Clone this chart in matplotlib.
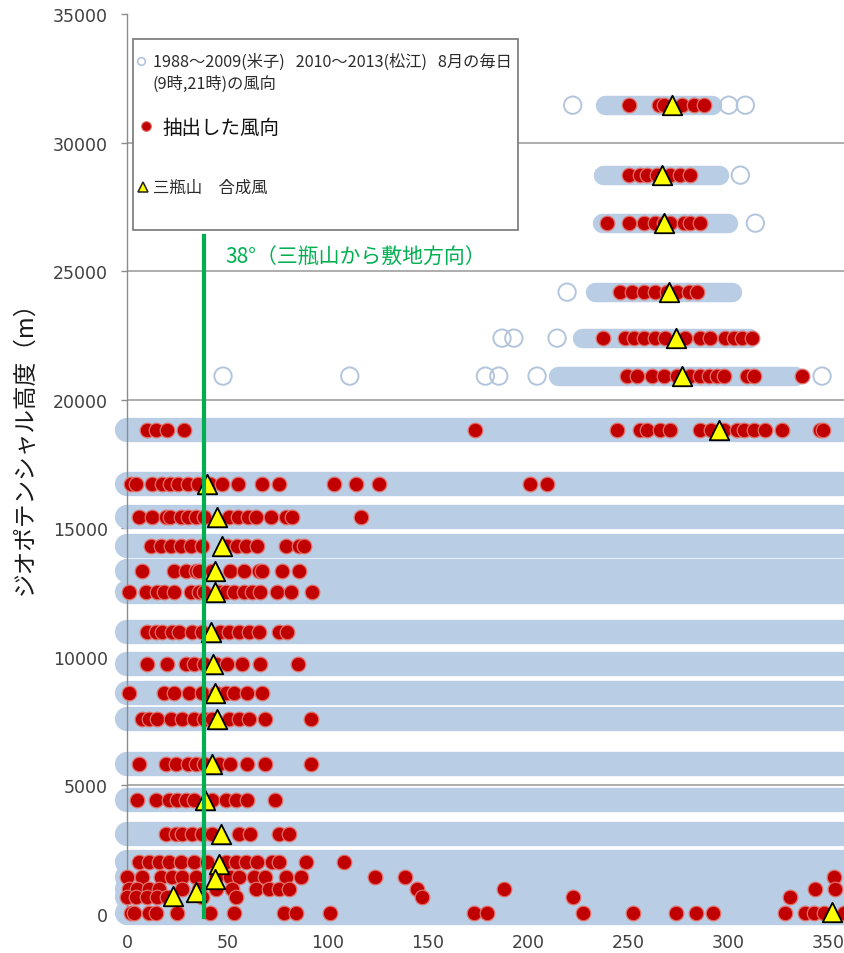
import matplotlib
matplotlib.use("Agg")
import matplotlib.pyplot as plt
from matplotlib.lines import Line2D
from matplotlib.patches import Rectangle

CJK = ["Noto Sans CJK JP", "DejaVu Sans"]

# Geopotential height of each observed level (m)
level_heights = [31454, 28733, 26866, 24183, 22395, 20918, 18818, 16719, 15435,
                 14308, 13336, 12519, 10964, 9720, 8593, 7582, 5832, 4432, 3110,
                 2010, 1430, 970, 650, 50]

# Extent of the dense cloud of daily wind directions at each level (deg)
band_lo = [238.5, 237.5, 237, 233.5, 227, 215, 0, 0, 0, 0, 0, 0, 0, 0, 0, 0, 0,
           0, 0, 0, 0, 0, 0, 0]
band_hi = [292, 295.5, 300, 302, 310.5, 333.5, 360, 360, 360, 360, 360, 360, 360,
           360, 360, 360, 360, 360, 360, 360, 360, 360, 360, 360]

# Isolated daily wind directions outside the dense cloud
open_dirs = [222.3, 300.2, 308.5, 306, 313.5, 219.5, 187, 192.9, 214.5,
             47.7, 111, 178.7, 185.4, 204.5, 346.8]
open_heights = [31454, 31454, 31454, 28733, 26866, 24183, 22395, 22395, 22395,
                20918, 20918, 20918, 20918, 20918, 20918]

# Extracted wind directions, listed per level (same order as level_heights)
red_dirs_by_level = [
    [250.3, 265.3, 268, 276.9, 282.7, 287.7],
    [250.3, 256.1, 259.4, 264.4, 271.1, 276.1, 281.1],
    [239.5, 250.3, 257.7, 263.6, 268, 271.1, 277.7, 281.1, 286.1],
    [246.1, 251.9, 257.7, 263.6, 269.4, 274.4, 280.2, 284.4],
    [237.5, 248.6, 252.8, 257.7, 263.6, 268.6, 278.6, 286, 291, 298.5, 302.7,
     306.9, 311.8],
    [249.5, 254.5, 261.9, 267.7, 274.4, 281.1, 286.1, 290.2, 294.4, 297.7,
     309.4, 312.7, 336.8],
    [9.8, 14, 19.8, 28.1, 173.7, 244.5, 256.1, 259.4, 266.1, 271.1, 286.1,
     291.1, 297.7, 304.4, 307.7, 312.7, 318.5, 326.8, 346, 347.5],
    [1.5, 4, 12.3, 17, 21, 25, 30, 35, 41, 47, 55, 67, 75.5, 103, 114, 125.5,
     201, 209.4],
    [5.6, 12.3, 19, 21, 26.5, 30, 34, 38, 50.5, 55, 60, 64, 71.5, 79, 82, 116.5],
    [11.5, 16.5, 21.5, 26.5, 31.5, 37.3, 49.8, 54.8, 59, 64.8, 79, 85.5, 88],
    [7.3, 23, 29, 34, 35.6, 42.3, 51.4, 58, 65.5, 67.2, 77.2, 85.5],
    [0.7, 9, 14.8, 18, 23, 31.5, 35.6, 38, 45.6, 49, 53, 58, 62.2, 66.4, 74.7,
     81.4, 92.2],
    [9.8, 14, 17.3, 22.3, 25.6, 32.3, 37.3, 46.4, 50.6, 55.6, 60.6, 65.6, 75.5,
     79.7],
    [9.8, 19.8, 29, 33.1, 38, 44, 49.8, 57.3, 66.4, 85.2],
    [0.7, 18, 23, 30.6, 37.3, 44, 49, 53, 59.6, 67],
    [7.3, 10.6, 14.8, 21.5, 27.3, 33.1, 38, 42.3, 50.6, 55.6, 60.6, 68.6, 91.4],
    [5.6, 19, 24, 30, 34, 38, 45.6, 51.4, 59.6, 68.9, 91.4],
    [4.8, 14, 20.6, 24.8, 29, 33.1, 42.3, 49, 54, 59.6, 73.5],
    [19, 24, 27.3, 32.3, 37.3, 42.3, 55.6, 61.4, 75.5, 80.5],
    [5.6, 10.6, 15.6, 20.6, 26.5, 33.1, 39.8, 49, 54, 59, 64.8, 72.3, 75.5,
     88.9, 108],
    [0, 7.3, 16.5, 22.3, 27.3, 34, 44, 51.4, 55.6, 63, 68.9, 79, 86.5, 123.8,
     138.8, 352.6],
    [0.7, 4.8, 10.6, 15.6, 27.3, 35.6, 44, 52.3, 64, 70.6, 75.5, 80.5, 144.6,
     187.9, 343.5, 353.5],
    [0, 4, 9.8, 14.8, 19.8, 37.3, 54, 147, 222.5, 331],
    [1.5, 3.2, 10.6, 14, 24.8, 41.4, 53, 78, 83.9, 101.3, 172.9, 179.6, 227.3,
     252.3, 274, 284, 292.2, 328.5, 338.5, 342.6, 347.6, 357.6],
]

# Composite wind at Mt. Sanbe (deg, m)
tri_dirs = [271.9, 266.9, 267.7, 270.2, 274.1, 276.9, 295.2, 39.8, 44.8, 47.3,
            43.6, 43.6, 41.9, 42.6, 43.6, 44.8, 42.3, 38.9, 46.9, 45.9, 43.9,
            34.4, 22.6, 351.8]
tri_heights = [31454, 28733, 26866, 24183, 22395, 20918, 18818, 16719, 15435,
               14308, 13336, 12519, 10964, 9720, 8593, 7582, 5832, 4432, 3110,
               1944, 1360, 867, 712, 80]

site_direction = 38
site_line_top = 26360

x_ticks = [0, 50, 100, 150, 200, 250, 300, 350]
y_ticks = [0, 5000, 10000, 15000, 20000, 25000, 30000, 35000]

BAND = "#b9cde5"
OPEN_EDGE = "#b3c5dd"
RED = "#c00000"
RED_EDGE = "#e2706a"
GREEN = "#00b050"

W, H = 845, 954
fig = plt.figure(figsize=(W / 100, H / 100), dpi=100)
ax = fig.add_axes([127.5 / W, 39 / H, 721 / W, 900 / H])
ax.set_xlim(0, 360)
ax.set_ylim(0, 35000)

for s in ("top", "right", "bottom"):
    ax.spines[s].set_visible(False)
ax.spines["left"].set_color("#8c8c8c")
ax.spines["left"].set_linewidth(1.0)

ax.set_yticks(y_ticks)
ax.set_yticklabels([str(v) for v in y_ticks])
ax.set_xticks(x_ticks)
ax.set_xticklabels([str(v) for v in x_ticks])
ax.tick_params(axis="y", length=4, width=1, color="#8c8c8c", pad=10,
               labelsize=12.5, labelcolor="#404040")
ax.tick_params(axis="x", length=0, pad=14, labelsize=12.5, labelcolor="#404040")
ax.yaxis.grid(True, color="#a0a0a0", linewidth=1.2, zorder=0)
ax.set_axisbelow(True)
ax.get_ygridlines()[-1].set_visible(False)

# Daily wind-direction clouds
for h, lo, hi in zip(level_heights, band_lo, band_hi):
    lw = 14 if h > 20000 else 17.5
    ax.plot([lo, hi], [h, h], color=BAND, lw=lw, solid_capstyle="round",
            zorder=2, clip_on=False)
ax.scatter(open_dirs, open_heights, s=12.5 ** 2, facecolors="none",
           edgecolors=OPEN_EDGE, linewidths=1.4, zorder=2.5, clip_on=False)

# Extracted directions
rx, ry = [], []
for h, dirs in zip(level_heights, red_dirs_by_level):
    rx.extend(dirs)
    ry.extend([h] * len(dirs))
ax.scatter(rx, ry, s=10.5 ** 2, facecolors=RED, edgecolors=RED_EDGE,
           linewidths=0.9, zorder=3, clip_on=False)

# Composite wind
ax.scatter(tri_dirs, tri_heights, marker="^", s=14 ** 2, facecolors="#ffff00",
           edgecolors="black", linewidths=1.3, zorder=4, clip_on=False)

# Direction from Mt. Sanbe toward the site
ax.plot([site_direction, site_direction], [-120, site_line_top], color=GREEN,
        lw=3, zorder=5, clip_on=False)
fig.text(225 / W, 1 - 257 / H, f"{site_direction}°（三瓶山から敷地方向）",
         color=GREEN, fontsize=15, va="center", ha="left", family=CJK)

fig.text(25 / W, 1 - 442 / H, "ジオポテンシャル高度（m）", rotation=90,
         fontsize=17, va="center", ha="center", family=CJK, color="#1a1a1a")

# Legend box
fig.add_artist(Rectangle((133 / W, 1 - 231 / H), 385 / W, 191 / H,
                         transform=fig.transFigure, facecolor="white",
                         edgecolor="#808080", linewidth=1.3, zorder=10))
fig.add_artist(Line2D([141 / W], [1 - 62 / H], transform=fig.transFigure,
                      marker="o", markersize=5.5, markerfacecolor="none",
                      markeredgecolor=OPEN_EDGE, markeredgewidth=1.2, zorder=11))
fig.add_artist(Line2D([146 / W], [1 - 127 / H], transform=fig.transFigure,
                      marker="o", markersize=7, markerfacecolor=RED,
                      markeredgecolor=RED_EDGE, markeredgewidth=0.8, zorder=11))
fig.add_artist(Line2D([143 / W], [1 - 188 / H], transform=fig.transFigure,
                      marker="^", markersize=6.5, markerfacecolor="#ffff00",
                      markeredgecolor="#222222", markeredgewidth=1.1, zorder=11))
TXT = "#2b2b2b"
fig.text(153 / W, 1 - 62 / H, "1988～2009(米子)   2010～2013(松江)   8月の毎日",
         fontsize=11.7, va="center", ha="left", family=CJK, color=TXT, zorder=12)
fig.text(153 / W, 1 - 84 / H, "(9時,21時)の風向", fontsize=11.7, va="center",
         ha="left", family=CJK, color=TXT, zorder=12)
fig.text(162 / W, 1 - 128 / H, "抽出した風向", fontsize=14, va="center",
         ha="left", family=CJK, color="#111111", zorder=12)
fig.text(153 / W, 1 - 188 / H, "三瓶山\u3000合成風", fontsize=11.8, va="center",
         ha="left", family=CJK, color=TXT, zorder=12)

fig.savefig("out.png", dpi=100)
